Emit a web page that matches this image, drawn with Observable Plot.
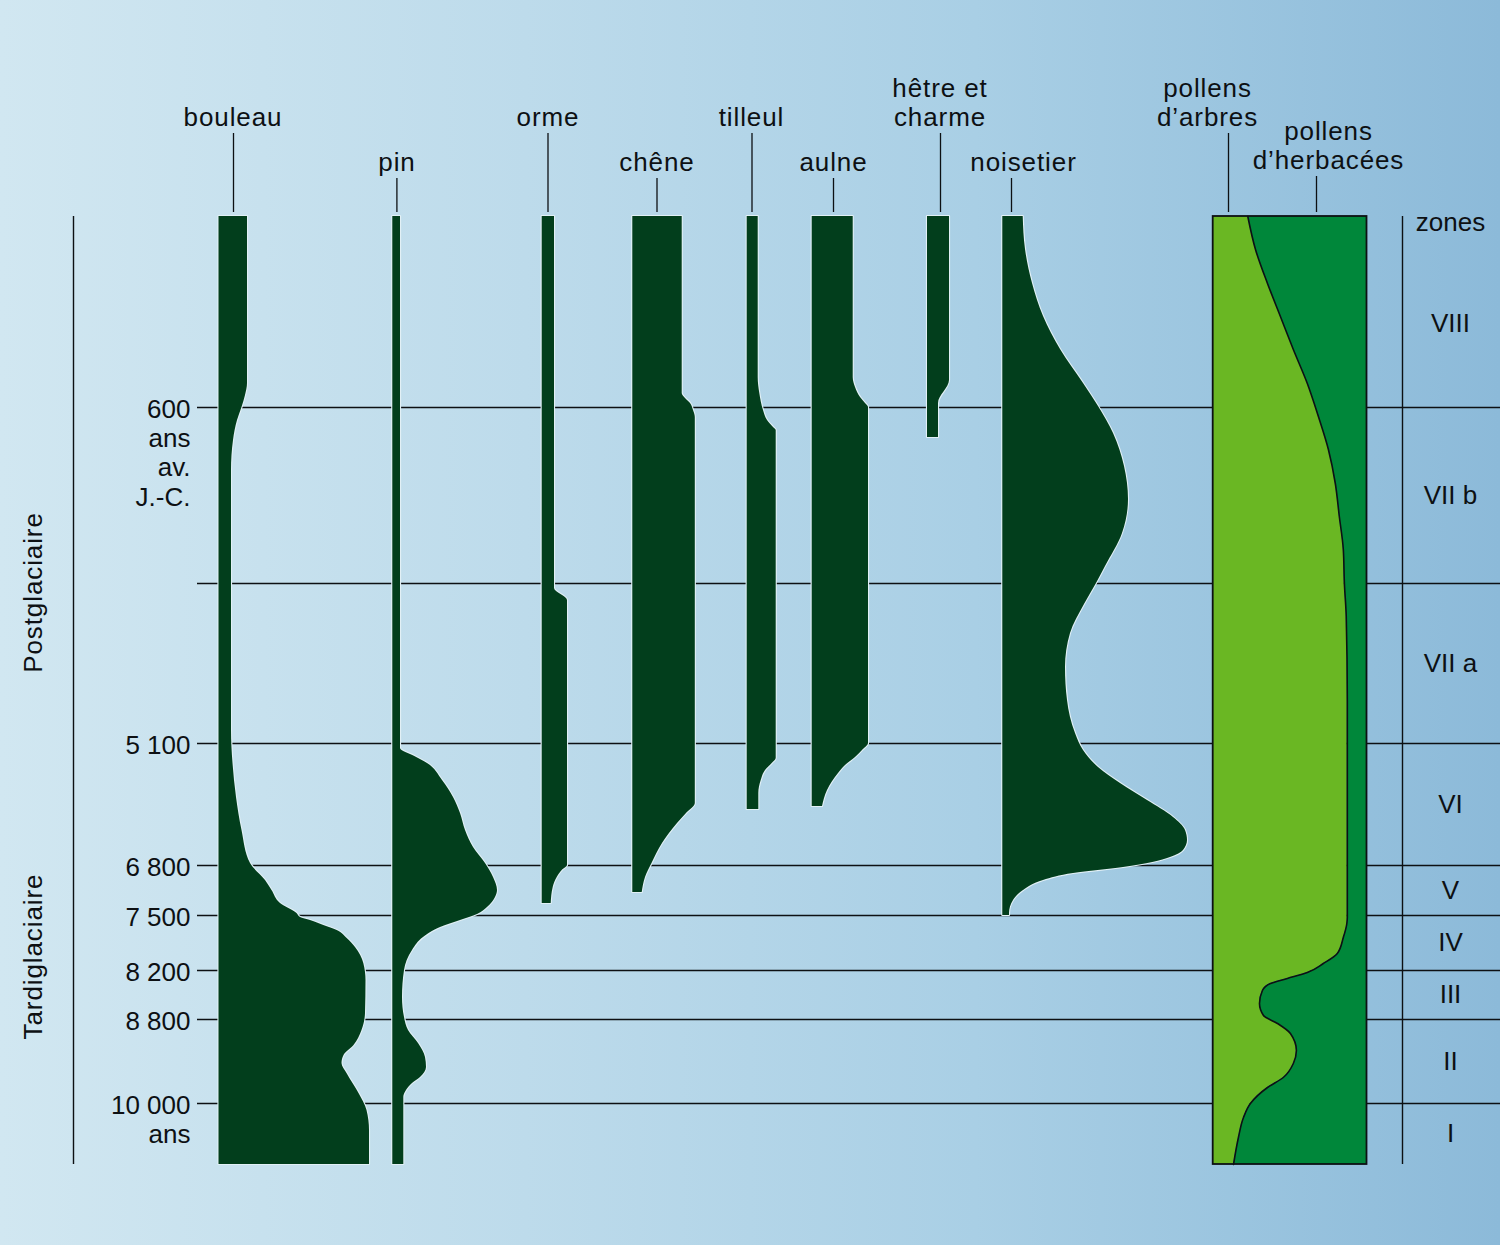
<!DOCTYPE html>
<html>
<head>
<meta charset="utf-8">
<script src="https://cdn.jsdelivr.net/npm/d3@7"></script>
<script src="https://cdn.jsdelivr.net/npm/@observablehq/plot@0.6"></script>
<style>
  html, body { margin: 0; padding: 0; }
  #chart { width: 1500px; height: 1245px; }
  #chart svg { display: block; }
  g[font-family^="Liberation Sans, Helvetica"] { letter-spacing: 0.9px; }
</style>
</head>
<body>
<div id="chart"></div>
<script>
// ================= DATA =================
// Depth along the core (arbitrary units, 0 = top, 948 = base)
const coreDepth = 948;
const zoneBoundaries = [191, 367, 527, 649, 699, 754, 803, 887];
const zoneNames = ["VIII", "VII b", "VII a", "VI", "V", "IV", "III", "II", "I"];
const zonesHeader = "zones";

const ageTickDepths = [191, 527, 649, 699, 754, 803, 887];
const ageTickLabels = ["600\nans\nav.\nJ.-C.", "5 100", "6 800", "7 500", "8 200", "8 800", "10 000\nans"];

const periods = ["Postglaciaire", "Tardiglaciaire"];
const periodCenters = [376, 740];

const taxa = ["bouleau", "pin", "orme", "chêne", "tilleul", "aulne", "hêtre et\ncharme", "noisetier"];

// profiles: [depth, pollen frequency]
const bouleau = [[0,28.5],[167,28.5],[179,26.5],[191,23],[204,18.5],[224,14.5],[254,12.5],[514,12.5],[547,14],[581,17.5],[614,23],[647,31.5],[664,46.5],[674,53],[687,61.5],[697,78],[701,81.5],[704,91.5],[709,104.8],[714,118.2],[722,128.2],[731,136.5],[747,144.8],[764,147],[797,146.5],[814,143],[829,135],[839,125],[847,123],[857,128],[877,140],[894,148],[914,150.5],[948,150.5]];
const pin = [[0,7.7],[532,7.7],[540,22],[547,34.7],[564,49.7],[581,60.7],[597,67.7],[614,72.7],[631,80.7],[647,92.7],[661,100.7],[674,104.7],[681,102.7],[691,94.7],[698,84.7],[704,67.7],[711,47.7],[721,30.7],[734,19.7],[754,11.7],[781,9.7],[801,11.7],[814,15.7],[827,25.7],[841,32.7],[851,33.7],[861,27.7],[867,19.7],[874,13.7],[881,11],[948,11]];
const orme = [[0,12.3],[372,12.3],[384,25.3],[649,25.3],[654,20],[661,15],[671,11],[687,9]];
const chene = [[0,49.4],[177,49.4],[182,52.7],[187,57.7],[194,60.7],[201,62.5],[587,62.5],[597,53.7],[607,44.7],[627,29.7],[647,19.2],[661,12.7],[676,9.4]];
const tilleul = [[0,11],[161,11],[177,12.6],[194,16.3],[204,20.3],[211,26.3],[214,29],[542,29],[547,25],[554,18.3],[564,14],[577,11.6],[593,11.6]];
const aulne = [[0,41],[161,41],[171,43.3],[181,48.3],[187,53.3],[191,56.3],[527,56.3],[534,50.3],[541,43.3],[549,33.3],[557,26.3],[574,15.3],[590,10.3]];
const hetre = [[0,22],[164,22],[187,11],[221,11]];
const noisetier = [[0,20.4],[33,22.7],[67,29.7],[100,40.7],[133,57.7],[167,80.7],[190,95.7],[217,110.7],[250,121.7],[283,125.7],[317,119.7],[350,102.7],[367,93.7],[388,81.7],[417,67.7],[451,62.7],[484,64.7],[517,72.7],[534,80.7],[551,95.7],[567,117.7],[584,144.7],[601,170.7],[614,182.7],[624,184.7],[634,180.7],[641,167.7],[646,150],[651,120.7],[657,70.7],[664,40.7],[674,20.7],[684,10.7],[697,6.7],[699,6.7]];
const profiles = [bouleau, pin, orme, chene, tilleul, aulne, hetre, noisetier];

// tree pollen share (%) of total pollen; herbs = 100 - trees
const pollenLabels = ["pollens\nd’arbres", "pollens\nd’herbacées"];
const arbresPct = [[0,22.5],[33,27.5],[67,35.3],[100,43.7],[133,52.1],[167,61.2],[200,68.4],[233,74.9],[267,79.4],[300,82],[333,84.6],[367,85.3],[400,86.5],[484,87.2],[701,87.2],[707,86.9],[721,84.6],[737,80.7],[747,71.6],[756,61.2],[762,48.2],[767,37.2],[774,32],[787,30.1],[799,32.7],[807,41.8],[817,50.2],[834,54.1],[847,52.1],[861,45.6],[871,35.3],[887,24.2],[901,19.7],[921,16.4],[948,13.2]];

// ================= LAYOUT =================
const taxonBase = [218.5, 392.3, 541.7, 632.3, 746.7, 811.7, 927, 1002.3];
const taxonLabelX = [232.5, 396.5, 547.5, 656.5, 751, 833, 939.5, 1023];
const taxonLeaderX = [233, 396.4, 547.5, 656.5, 751.5, 833, 940, 1011];
const taxonRow = ["A", "B", "A", "B", "A", "B", "A", "B"];
const pollenLabelX = [1207, 1328];
const pollenLeaderX = [1228, 1316];
const pollenRow = ["A", "C"];
const rows = {A: {baseline: -91, top: -83}, B: {baseline: -46, top: -38}, C: {baseline: -48, top: -40}};
const leaderBottom = -4;
const pollenLeft = 1212.7, pollenRight = 1366.5, pollenW = pollenRight - pollenLeft;
const gridX1 = 197, gridX2 = 1500;
const sideRules = [73, 1402];
const tickLabelX = 190, zoneLabelX = 1450, periodX = 33;

const INK = "#0d1013";
const DARK = "#023e1c";
const LIGHTG = "#6ab723";
const MIDG = "#00873a";
const FONT = "Liberation Sans, Arial, sans-serif";
const FONT_SPACED = "Liberation Sans, Helvetica, Arial, sans-serif";

// build tables
const taxonRows = profiles.flatMap((p, i) => p.map(([depth, value]) => ({taxon: taxa[i], base: taxonBase[i], depth, value})));
const topLabels = [
  ...taxa.map((t, i) => ({text: t, x: taxonLabelX[i], lx: taxonLeaderX[i], row: taxonRow[i]})),
  ...pollenLabels.map((t, i) => ({text: t, x: pollenLabelX[i], lx: pollenLeaderX[i], row: pollenRow[i]}))
];
const zoneTops = [24, ...zoneBoundaries];
const zoneBottoms = [...zoneBoundaries, coreDepth];
const zoneLabels = zoneNames.map((z, i) => ({z, depth: (zoneTops[i] + zoneBottoms[i]) / 2}));
const arbresX = d => pollenLeft + d[1] / 100 * pollenW;

const chart = Plot.plot({
  width: 1500,
  height: 1245,
  marginTop: 216,
  marginBottom: 81,
  marginLeft: 0,
  marginRight: 0,
  x: {domain: [0, 1500], axis: null},
  y: {domain: [0, coreDepth], reverse: true, axis: null},
  style: {
    background: "linear-gradient(to right, #d1e7f1 0%, #bddbeb 35%, #a9cfe5 65%, #8cbad9 100%)",
    fontFamily: FONT,
    fontSize: "26px",
    color: INK
  },
  marks: [
    // zone grid lines
    Plot.ruleY(zoneBoundaries, {y: d => d, x1: gridX1, x2: gridX2, stroke: INK, strokeWidth: 1.6}),
    // side rules
    Plot.ruleX(sideRules, {x: d => d, y1: 0, y2: coreDepth, stroke: INK, strokeWidth: 1.4}),
    // taxon curves
    Plot.areaX(taxonRows, {
      y: "depth", x1: "base", x2: d => d.base + d.value, z: "taxon",
      curve: "monotone-y", fill: DARK, stroke: "#e2f0f6", strokeWidth: 2.2, paintOrder: "stroke"
    }),
    // pollen column: trees (light) and herbs (dark)
    Plot.areaX(arbresPct, {y: d => d[0], x1: pollenLeft, x2: arbresX, curve: "monotone-y", fill: LIGHTG}),
    Plot.areaX(arbresPct, {y: d => d[0], x1: arbresX, x2: pollenRight, curve: "monotone-y", fill: MIDG}),
    Plot.line(arbresPct, {y: d => d[0], x: arbresX, curve: "monotone-y", stroke: INK, strokeWidth: 1.6}),
    Plot.rect([0], {x1: pollenLeft, x2: pollenRight, y1: 0, y2: coreDepth, fill: "none", stroke: INK, strokeWidth: 1.8}),
    // leader lines
    Plot.ruleX(topLabels, {x: "lx", y1: d => rows[d.row].top, y2: leaderBottom, stroke: INK, strokeWidth: 1.3}),
    // top labels
    Plot.text(topLabels, {
      x: "x", y: d => rows[d.row].baseline, text: "text",
      lineAnchor: "bottom", lineHeight: 1.115, fontSize: 26, fill: INK, fontFamily: FONT_SPACED
    }),
    // age labels
    Plot.text(ageTickDepths, {
      y: d => d, x: tickLabelX, text: (d, i) => ageTickLabels[i],
      textAnchor: "end", lineAnchor: "top", lineHeight: 1.12, dy: -10, fontSize: 26, fill: INK
    }),
    // zone labels
    Plot.text([zonesHeader], {x: zoneLabelX, y: 6, text: d => d, fontSize: 26, fill: INK}),
    Plot.text(zoneLabels, {x: zoneLabelX, y: "depth", text: "z", fontSize: 26, fill: INK}),
    // periods
    Plot.text(periods, {
      x: periodX, y: (d, i) => periodCenters[i], text: d => d, rotate: -90,
      fontSize: 26, fill: INK, fontFamily: FONT_SPACED
    })
  ]
});

document.getElementById("chart").appendChild(chart);
</script>
</body>
</html>
